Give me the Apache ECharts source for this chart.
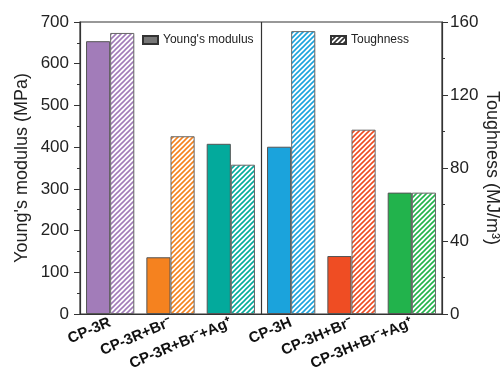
<!DOCTYPE html>
<html>
<head>
<meta charset="utf-8">
<script src="https://cdn.jsdelivr.net/npm/echarts@6/dist/echarts.min.js"></script>
<style>
html, body { margin: 0; padding: 0; background: #fff; }
#chart { width: 503px; height: 377px; }
</style>
</head>
<body>
<div id="chart"></div>
<script>
var categories = ['CP-3R', 'CP-3R+Br\u207b', 'CP-3R+Br\u207b+Ag\u207a', 'CP-3H', 'CP-3H+Br\u207b', 'CP-3H+Br\u207b+Ag\u207a'];
var modulus = [654, 136, 408, 401, 139, 291];
var toughness = [154, 97.4, 81.8, 155, 101, 66.5];
var colors = ['#a27cb9', '#f5821f', '#03aa9c', '#1ba3dc', '#ef4d23', '#22b34c'];
// divider between the R and H groups (in category slots)
var dividerAt = 3;

// diagonal hatch pattern
function hatch(color) {
	var c = document.createElement('canvas');
	c.width = 5;
	c.height = 5;
	var ctx = c.getContext('2d');
	ctx.fillStyle = '#fff';
	ctx.fillRect(0, 0, 5, 5);
	ctx.strokeStyle = color;
	ctx.lineWidth = 1.6;
	ctx.beginPath();
	ctx.moveTo(0, 5); ctx.lineTo(5, 0);
	ctx.moveTo(-1, 1); ctx.lineTo(1, -1);
	ctx.moveTo(4, 6); ctx.lineTo(6, 4);
	ctx.stroke();
	return { image: c, repeat: 'repeat' };
}

var chart = echarts.init(document.getElementById('chart'));
var font = 'Liberation Sans, Arial, sans-serif';

var option = {
	animation: false,
	textStyle: { fontFamily: font },
	grid: {
		left: 80, right: 61, top: 22, bottom: 63,
		outerBoundsMode: 'none',
		containLabel: false,
		show: true, borderColor: '#333', borderWidth: 1.2
	},
	legend: [{
		data: ["Young's modulus"],
		left: 137, top: 29,
		icon: 'rect',
		itemWidth: 15, itemHeight: 8,
		textStyle: { fontSize: 12, color: '#222', fontFamily: font }
	}, {
		data: ['Toughness'],
		left: 325, top: 29,
		icon: 'rect',
		itemWidth: 15, itemHeight: 8,
		textStyle: { fontSize: 12, color: '#222', fontFamily: font }
	}],
	xAxis: [{
		type: 'category',
		data: categories,
		axisTick: { show: false },
		axisLine: { lineStyle: { color: '#333', width: 1.2 } },
		axisLabel: { rotate: 23, fontSize: 15, fontWeight: 'bold', color: '#111', margin: 8, interval: 0 },
		splitLine: { show: false }
	}, {
		type: 'value',
		min: 0, max: categories.length,
		show: false
	}],
	yAxis: [{
		type: 'value',
		min: 0, max: 700, interval: 100,
		name: "Young's modulus (MPa)",
		nameLocation: 'middle',
		nameGap: 49,
		nameMoveOverlap: false,
		nameTextStyle: { fontSize: 18, color: '#222' },
		axisLine: { show: true, lineStyle: { color: '#333', width: 1.2 } },
		axisTick: { show: true, length: 6, lineStyle: { color: '#333' } },
		minorTick: { show: true, splitNumber: 2, length: 3, lineStyle: { color: '#333' } },
		axisLabel: { fontSize: 17, color: '#222', margin: 11 },
		splitLine: { show: false }
	}, {
		type: 'value',
		position: 'right',
		min: 0, max: 160, interval: 40,
		name: 'Toughness (MJ/m\u00b3)',
		nameLocation: 'middle',
		nameRotate: -90,
		nameGap: 41,
		nameMoveOverlap: false,
		nameTextStyle: { fontSize: 18, color: '#222' },
		axisLine: { show: true, lineStyle: { color: '#333', width: 1.2 } },
		axisTick: { show: true, length: 6, lineStyle: { color: '#333' } },
		minorTick: { show: true, splitNumber: 2, length: 3, lineStyle: { color: '#333' } },
		axisLabel: { fontSize: 17, color: '#222', margin: 8 },
		splitLine: { show: false }
	}],
	series: [{
		name: "Young's modulus",
		type: 'bar',
		barGap: '0%',
		barCategoryGap: '20%',
		itemStyle: { color: '#777', borderColor: '#333', borderWidth: 1 },
		data: modulus.map(function (v, i) {
			return { value: v, itemStyle: { color: colors[i], borderColor: '#555', borderWidth: 1 } };
		})
	}, {
		name: 'Toughness',
		type: 'bar',
		yAxisIndex: 1,
		itemStyle: { color: hatch('#333'), borderColor: '#333', borderWidth: 1 },
		data: toughness.map(function (v, i) {
			return { value: v, itemStyle: { color: hatch(colors[i]), borderColor: '#666', borderWidth: 1 } };
		})
	}, {
		type: 'line',
		xAxisIndex: 1,
		data: [],
		markLine: {
			silent: true,
			symbol: 'none',
			label: { show: false },
			lineStyle: { color: '#333', width: 1.2, type: 'solid' },
			data: [{ xAxis: dividerAt }]
		}
	}]
};
chart.setOption(option);
</script>
</body>
</html>
